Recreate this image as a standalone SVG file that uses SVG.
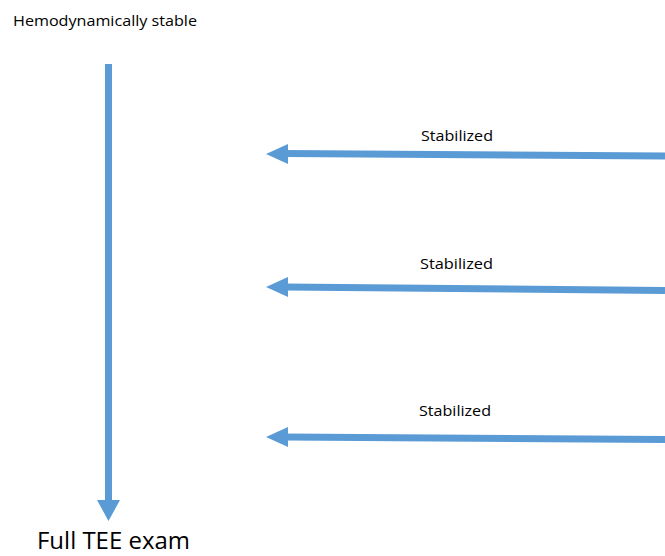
<svg xmlns="http://www.w3.org/2000/svg" width="665" height="556" viewBox="0 0 665 556">
<style>
.t{font-family:"Open Sans","Liberation Sans",sans-serif;fill:#000}
.s{font-size:14.5px}
.a{stroke:#5B9BD5;stroke-width:7;fill:none}
.h{fill:#5B9BD5;stroke:none}
</style>
<rect width="665" height="556" fill="#fff"/>
<g id="node-stable"><text class="t s" x="13" y="26" textLength="184" lengthAdjust="spacingAndGlyphs">Hemodynamically stable</text></g>
<g id="node-full"><text class="t" x="37" y="549" font-size="23" textLength="153" lengthAdjust="spacingAndGlyphs">Full TEE exam</text></g>
<g id="connectors">
<line class="a" x1="108.5" y1="64" x2="108.5" y2="502"/>
<polygon class="h" points="97,500 120,500 108.5,521"/>
<line class="a" x1="285" y1="153.5" x2="665" y2="156"/>
<polygon class="h" points="266,154 288,144 288,164"/>
<text class="t s" x="421" y="141" textLength="72" lengthAdjust="spacingAndGlyphs">Stabilized</text>
<line class="a" x1="285" y1="287" x2="665" y2="290.5"/>
<polygon class="h" points="266,287 288,277 288,297"/>
<text class="t s" x="420" y="269" textLength="73" lengthAdjust="spacingAndGlyphs">Stabilized</text>
<line class="a" x1="285" y1="437" x2="665" y2="439.5"/>
<polygon class="h" points="266,437 288,427 288,447"/>
<text class="t s" x="419" y="416" textLength="72" lengthAdjust="spacingAndGlyphs">Stabilized</text>
</g>
</svg>
